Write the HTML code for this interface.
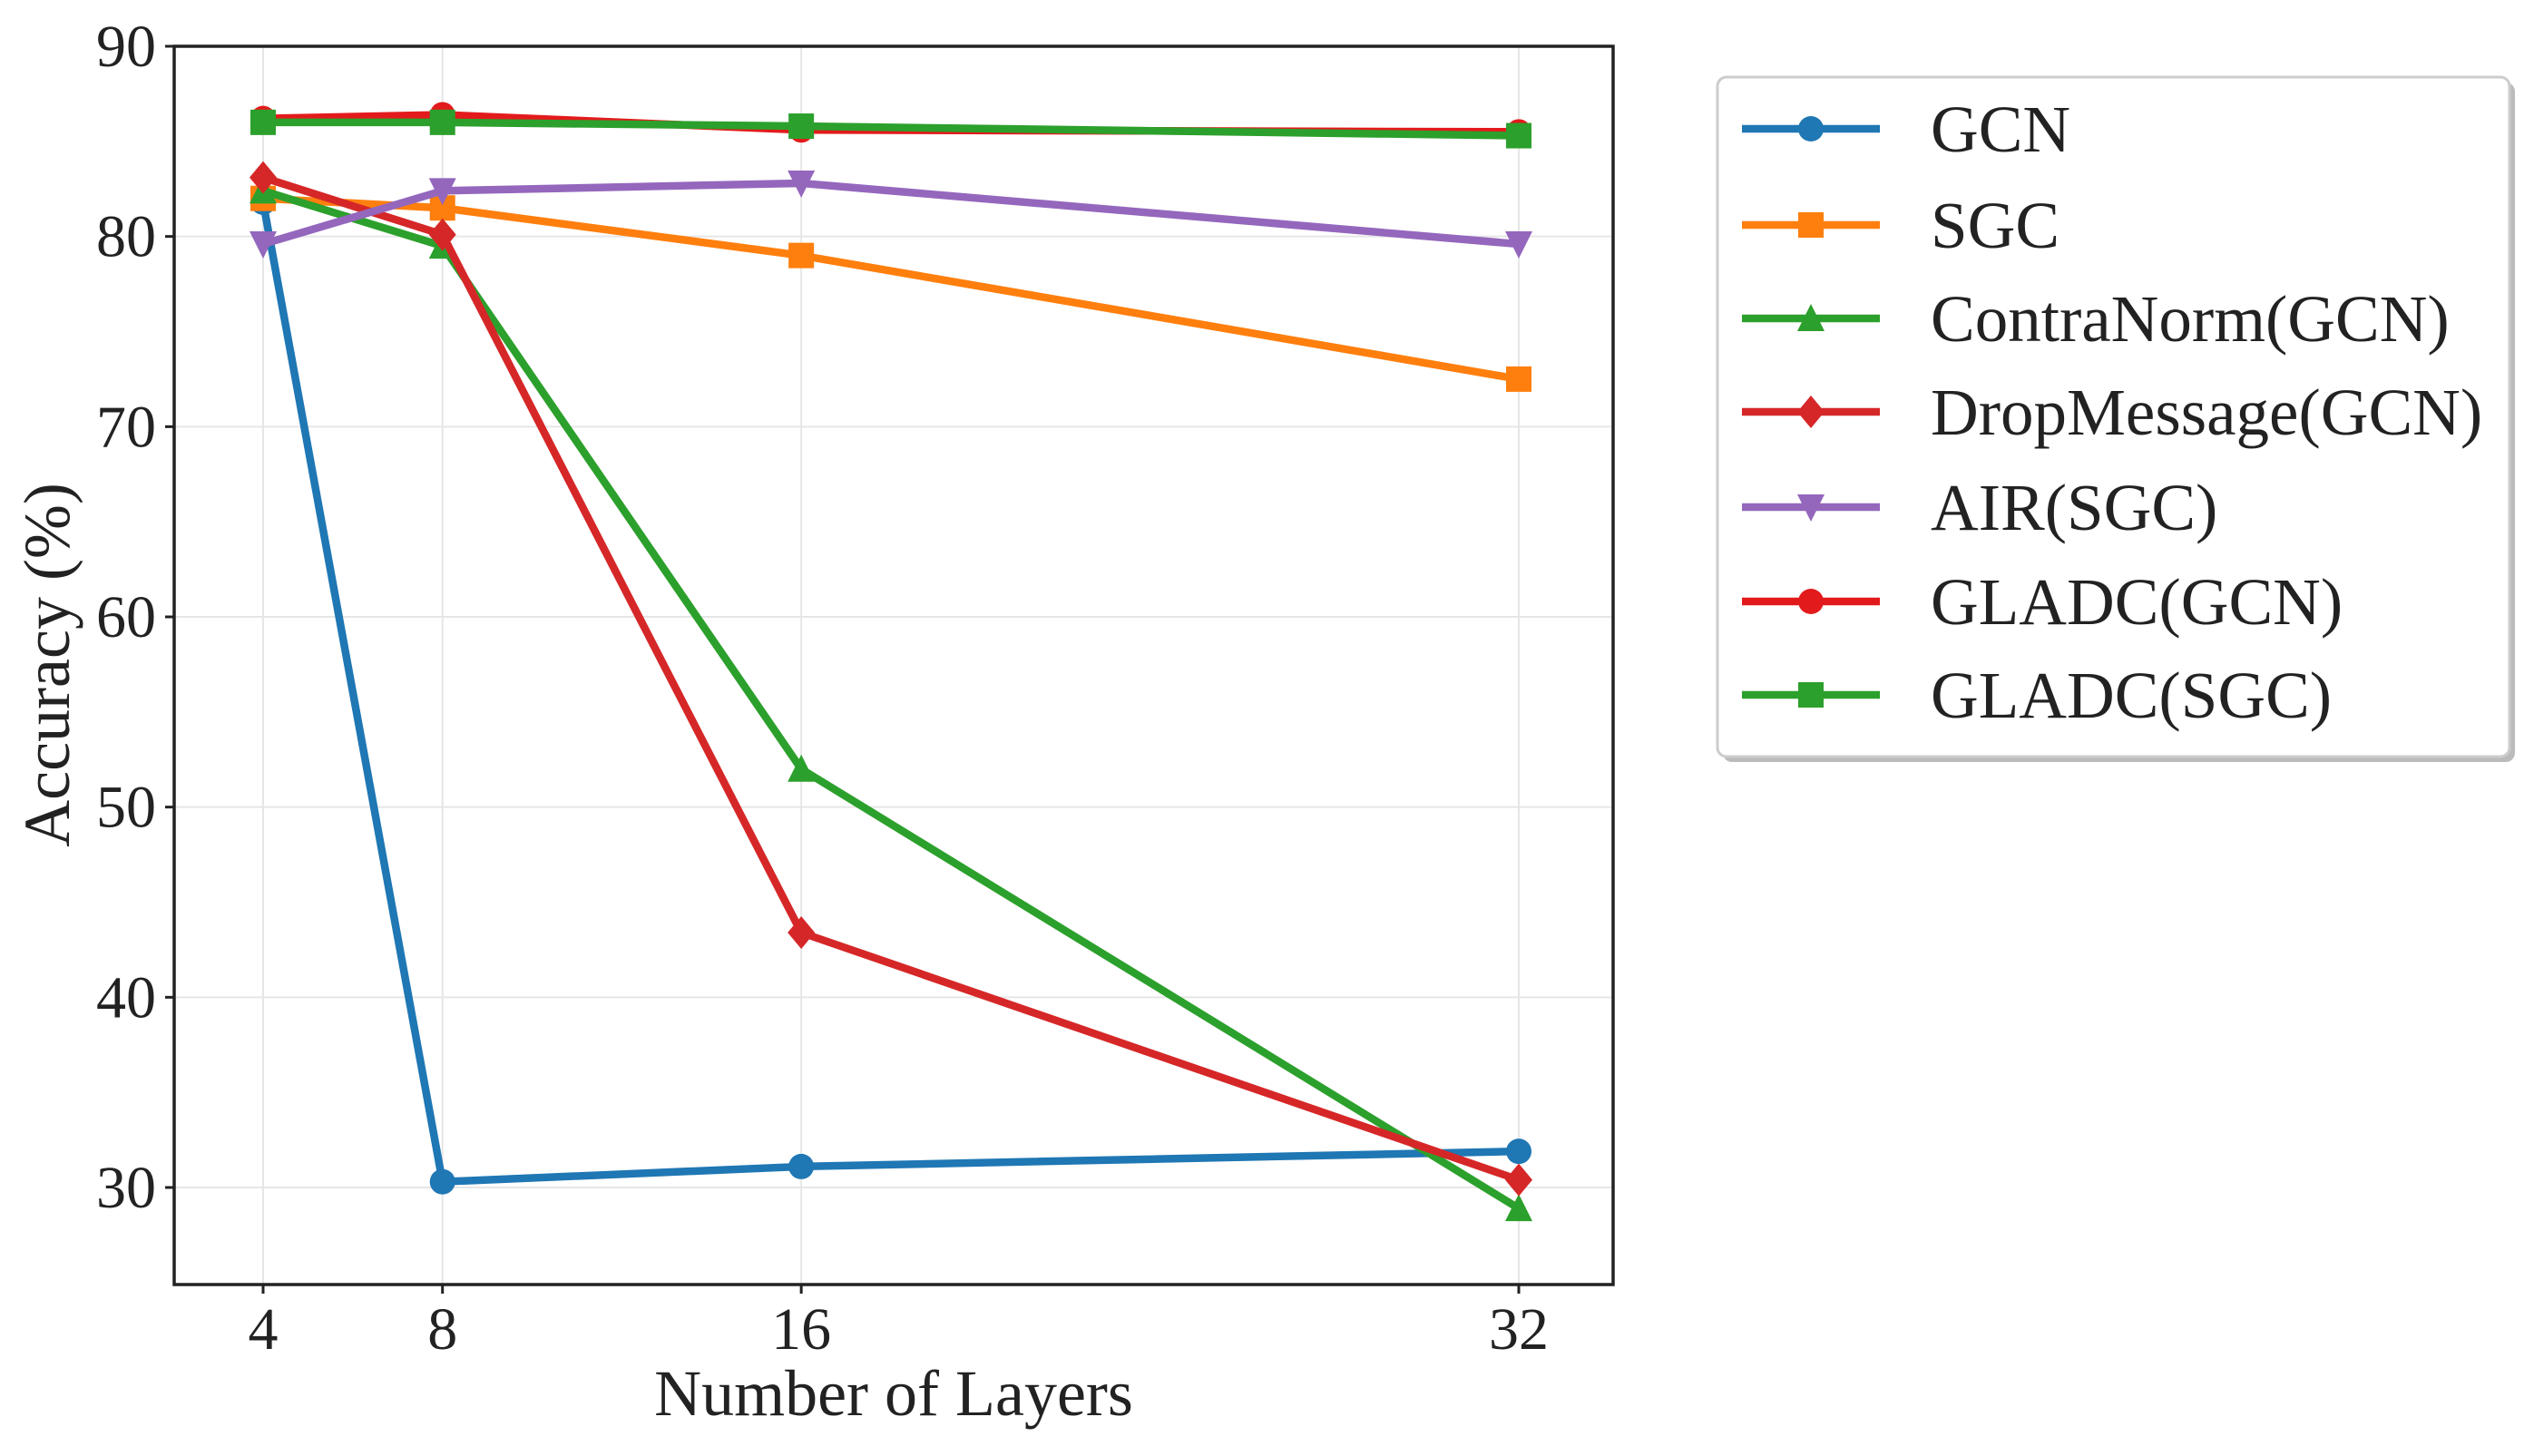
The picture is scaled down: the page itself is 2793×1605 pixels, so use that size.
<!DOCTYPE html>
<html><head><meta charset="utf-8">
<style>
html,body{margin:0;padding:0;background:#fff;}
svg{display:block;font-family:"Liberation Serif",serif;}
</style></head>
<body>
<svg id="chart" width="2793" height="1605" viewBox="0 0 2793 1605" xmlns="http://www.w3.org/2000/svg">
<g id="grid"></g>
<g id="series"></g>
<rect x="192" y="51" width="1586" height="1365" fill="none" stroke="#222" stroke-width="3.5"/>
<g id="ticks"></g>
<text x="985" y="1560" font-size="72" text-anchor="middle" fill="#222">Number of Layers</text>
<text transform="translate(76,733) rotate(-90)" font-size="72" text-anchor="middle" fill="#222">Accuracy (%)</text>
<g>
<rect x="1899" y="91" width="873" height="749" rx="10" fill="#bbb"/>
<rect x="1893" y="85" width="873" height="749" rx="10" fill="#fff" stroke="#ccc" stroke-width="3"/>
<g id="legend-items"></g>
</g>
</svg>
<script>
const layers = [4, 8, 16, 32];
const yTicks = [30, 40, 50, 60, 70, 80, 90];
const names = ["GCN","SGC","ContraNorm(GCN)","DropMessage(GCN)","AIR(SGC)","GLADC(GCN)","GLADC(SGC)"];
const gcn = [81.8, 30.3, 31.1, 31.9];
const sgc = [82.0, 81.5, 79.0, 72.5];
const contraNorm = [82.4, 79.5, 52.0, 28.9];
const dropMessage = [83.1, 80.1, 43.4, 30.4];
const air = [79.6, 82.4, 82.8, 79.6];
const gladcGcn = [86.2, 86.4, 85.6, 85.5];
const gladcSgc = [86.0, 86.0, 85.8, 85.3];

const NS = "http://www.w3.org/2000/svg";
const X = v => 290 + (v - 4) * (1674 - 290) / 28;
const Y = v => 1309 - (v - 30) * (1309 - 51) / 60;
function mk(tag, attrs, parent){const e=document.createElementNS(NS,tag);for(const k in attrs)e.setAttribute(k,attrs[k]);parent.appendChild(e);return e;}

const grid=document.getElementById('grid'), ticks=document.getElementById('ticks');
yTicks.forEach(t=>{
  const g=mk('line',{x1:192,x2:1778,y1:Y(t),y2:Y(t),stroke:'#e6e6e6','stroke-width':2},grid);
  
  
  mk('line',{x1:182,x2:192,y1:Y(t),y2:Y(t),stroke:'#222','stroke-width':3},ticks);
  const tx=mk('text',{x:172,y:Y(t)+22,'font-size':66,'text-anchor':'end',fill:'#222'},ticks);
  tx.textContent=t;
  
  
});
layers.forEach(l=>{
  const g=mk('line',{x1:X(l),x2:X(l),y1:51,y2:1416,stroke:'#e6e6e6','stroke-width':2},grid);
  
  
  mk('line',{x1:X(l),x2:X(l),y1:1416,y2:1426,stroke:'#222','stroke-width':3},ticks);
  const tx=mk('text',{x:X(l),y:1487,'font-size':66,'text-anchor':'middle',fill:'#222'},ticks);
  tx.textContent=l;
  
  
});

const allSeries=[gcn,sgc,contraNorm,dropMessage,air,gladcGcn,gladcSgc];
const colors=['#1f77b4','#ff7f0e','#2ca02c','#d62728','#9467bd','#e31a1c','#2ca02c'];
const markers=['circle','square','triangle','diamond','tri-down','circle','square'];
function marker(type,cx,cy,color,parent){
  const r=14;
  if(type==='circle') return mk('circle',{cx,cy,r,fill:color},parent);
  if(type==='square') return mk('rect',{x:cx-r,y:cy-r,width:2*r,height:2*r,fill:color},parent);
  if(type==='triangle') return mk('polygon',{points:`${cx},${cy-r-2} ${cx-r-1},${cy+r} ${cx+r+1},${cy+r}`,fill:color},parent);
  if(type==='tri-down') return mk('polygon',{points:`${cx},${cy+r+2} ${cx-r-1},${cy-r} ${cx+r+1},${cy-r}`,fill:color},parent);
  if(type==='diamond') return mk('polygon',{points:`${cx},${cy-r-4} ${cx+r+1},${cy} ${cx},${cy+r+4} ${cx-r-1},${cy}`,fill:color},parent);
}
const sg=document.getElementById('series');
allSeries.forEach((vals,i)=>{
  const g=mk('g',{},sg);
  
  
  const pts=vals.map((v,j)=>X(layers[j])+','+Y(v)).join(' ');
  mk('polyline',{points:pts,fill:'none',stroke:colors[i],'stroke-width':8.5,'stroke-linejoin':'miter'},g);
  vals.forEach((v,j)=>{
    const m=marker(markers[i],X(layers[j]),Y(v),colors[i],g);
    
    
  });
});

const li=document.getElementById('legend-items');
const legendY=[142,248,351,454,559,663,766];
names.forEach((n,i)=>{
  const g=mk('g',{},li);
  
  
  mk('line',{x1:1920,x2:2072,y1:legendY[i],y2:legendY[i],stroke:colors[i],'stroke-width':8.5},g);
  marker(markers[i],1996,legendY[i],colors[i],g);
  const t=mk('text',{x:2128,y:legendY[i]+25,'font-size':73,fill:'#222'},g);
  t.textContent=n;
});
</script>
</body></html>
